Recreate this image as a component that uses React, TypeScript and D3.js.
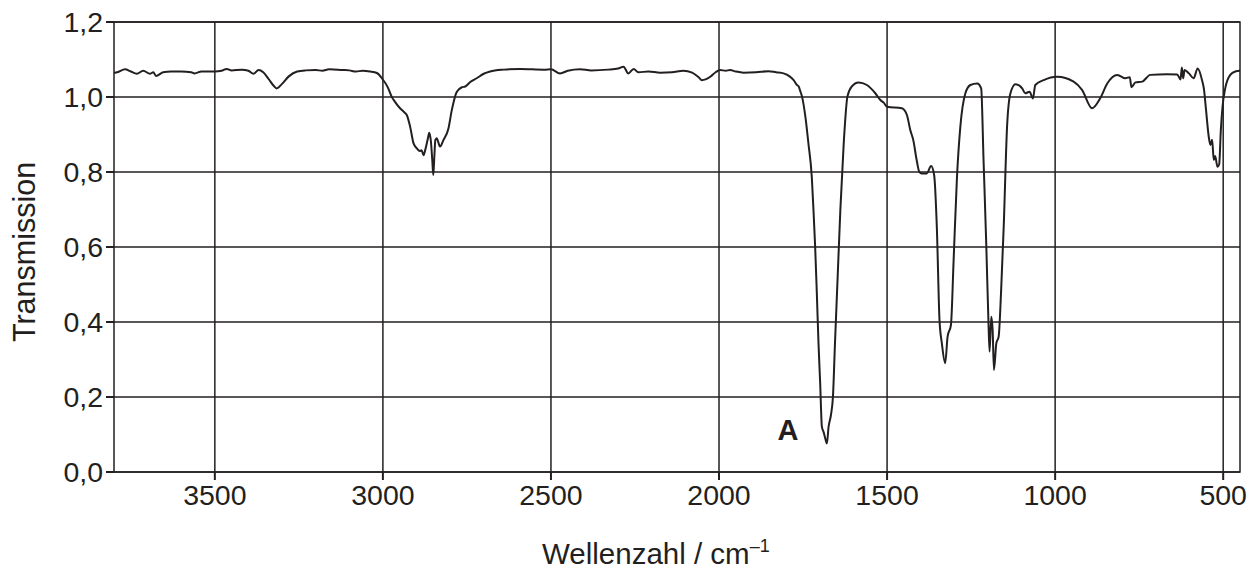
import React from "react";
import * as d3 from "d3";

// Wavenumbers (cm^-1), descending
const waveNumbers: number[] = [
  3800, 3790, 3767, 3750, 3732, 3713, 3693, 3683, 3675, 3654, 3630, 3600, 3570, 3560, 3540, 3500,
  3480, 3465, 3450, 3420, 3400, 3385, 3370, 3356, 3340, 3325, 3316, 3300, 3280, 3255, 3230, 3200,
  3180, 3160, 3120, 3100, 3080, 3060, 3038, 3018, 3003, 2985, 2974, 2964, 2949, 2935, 2929, 2919,
  2909, 2899, 2890, 2885, 2879, 2874, 2866, 2862, 2857, 2853, 2850, 2847, 2844, 2840, 2830, 2820,
  2805, 2795, 2780, 2765, 2755, 2740, 2721, 2700, 2681, 2640, 2592, 2520, 2500, 2473, 2450, 2413,
  2380, 2330, 2300, 2284, 2270, 2254, 2240, 2210, 2175, 2140, 2106, 2080, 2060, 2051, 2040, 2026,
  2010, 1997, 1980, 1967, 1950, 1927, 1890, 1853, 1830, 1808, 1790, 1778, 1768, 1763, 1758, 1753,
  1743, 1734, 1724, 1719, 1714, 1709, 1704, 1699, 1694, 1689, 1684, 1679, 1674, 1667, 1661, 1655,
  1647, 1639, 1629, 1618, 1605, 1585, 1560, 1535, 1520, 1510, 1500, 1456, 1441, 1431, 1422, 1412,
  1404, 1397, 1382, 1369, 1360, 1352, 1344, 1337, 1327, 1320, 1310, 1302, 1292, 1282, 1267, 1252,
  1232, 1220, 1213, 1205, 1198, 1195, 1190, 1186, 1182, 1175, 1168, 1161, 1153, 1143, 1133, 1118,
  1098, 1089, 1076, 1066, 1059, 1034, 994, 945, 920, 890, 865, 845, 815, 791, 778, 773,
  761, 741, 717, 667, 637, 627, 623, 619, 615, 602, 588, 576, 563, 557, 551, 543,
  538, 533, 528, 524, 517, 512, 507, 502, 494, 479, 464, 450,
];

// Transmission values
const transmission: number[] = [
  1.064, 1.066, 1.074, 1.068, 1.062, 1.07, 1.062, 1.066, 1.056, 1.066, 1.068, 1.068, 1.066, 1.063, 1.068, 1.068,
  1.07, 1.075, 1.071, 1.073, 1.07, 1.062, 1.072, 1.066, 1.048, 1.03, 1.023, 1.035, 1.055, 1.068, 1.071, 1.072,
  1.07, 1.074, 1.072, 1.071, 1.068, 1.07, 1.068, 1.064, 1.05, 1.025, 1.001, 0.987, 0.97, 0.958, 0.952, 0.921,
  0.877, 0.863, 0.856, 0.858, 0.845, 0.859, 0.89, 0.905, 0.88, 0.83, 0.792, 0.84, 0.885, 0.89, 0.868, 0.885,
  0.916, 0.965, 1.014, 1.026, 1.028, 1.04, 1.05, 1.062, 1.068, 1.073, 1.075, 1.073, 1.074, 1.063, 1.07, 1.074,
  1.071, 1.073, 1.076, 1.081, 1.063, 1.075, 1.066, 1.068, 1.065, 1.066, 1.07, 1.065, 1.052, 1.045, 1.047, 1.054,
  1.066, 1.072, 1.07, 1.072, 1.068, 1.065, 1.066, 1.069, 1.066, 1.063, 1.055, 1.045, 1.032, 1.028, 1.015, 1.001,
  0.947, 0.876, 0.787, 0.699, 0.601, 0.477, 0.343, 0.236, 0.121, 0.107, 0.09, 0.076, 0.121, 0.152, 0.201, 0.343,
  0.521, 0.699, 0.876, 1.001, 1.028, 1.039, 1.032, 1.01, 0.992, 0.985, 0.974, 0.97, 0.952, 0.912, 0.885, 0.832,
  0.8, 0.796, 0.796, 0.816, 0.792, 0.654, 0.405, 0.343, 0.29, 0.361, 0.392, 0.565, 0.787, 0.921, 1.01, 1.032,
  1.036, 1.023, 0.832, 0.61, 0.388, 0.321, 0.414, 0.38, 0.272, 0.343, 0.361, 0.477, 0.654, 0.921, 1.01, 1.034,
  1.023, 1.01, 1.014, 0.996, 1.032, 1.045, 1.054, 1.041, 1.019, 0.97, 0.998, 1.036, 1.059, 1.05, 1.053, 1.026,
  1.039, 1.041, 1.059, 1.061, 1.06, 1.047, 1.079, 1.05, 1.072, 1.063, 1.05, 1.076, 1.045, 1.019, 0.965, 0.894,
  0.872, 0.886, 0.832, 0.843, 0.814, 0.82, 0.912, 0.974, 1.023, 1.059, 1.068, 1.07,
];

const xTicks: number[] = [3500, 3000, 2500, 2000, 1500, 1000, 500];
const yTicks: number[] = [0, 0.2, 0.4, 0.6, 0.8, 1.0, 1.2];
const peakLabel = { text: "A", wn: 1795, t: 0.107 };

const INK = "#231f20";
const FONT = "'Liberation Sans', Arial, Helvetica, sans-serif";

export default function App() {
  const W = 1258;
  const H = 571;
  const left = 114, right = 1240, top = 22, bottom = 472;
  const x = d3.scaleLinear().domain([3800, 450]).range([left, right]);
  const y = d3.scaleLinear().domain([0, 1.2]).range([bottom, top]);

  const data = waveNumbers.map((w, i) => [w, transmission[i]] as [number, number]);
  const line = d3
    .line<[number, number]>()
    .x((d) => x(d[0]))
    .y((d) => y(d[1]))
    .curve(d3.curveMonotoneX);

  const fmt = (v: number) => v.toFixed(1).replace(".", ",");

  return (
    <svg
      width={W}
      height={H}
      style={{ position: "absolute", left: 0, top: 0, background: "#fff" }}
      fontFamily={FONT}
    >
      {/* grid */}
      {yTicks.map((t) => (
        <line key={"gy" + t} x1={left} x2={right} y1={y(t)} y2={y(t)} stroke={INK} strokeWidth={1.5} />
      ))}
      {xTicks.map((t) => (
        <line key={"gx" + t} x1={x(t)} x2={x(t)} y1={top} y2={bottom} stroke={INK} strokeWidth={1.5} />
      ))}
      {/* frame */}
      <rect x={left} y={top} width={right - left} height={bottom - top} fill="none" stroke={INK} strokeWidth={1.5} />
      {/* ticks */}
      {yTicks.map((t) => (
        <line key={"ty" + t} x1={left - 8} x2={left} y1={y(t)} y2={y(t)} stroke={INK} strokeWidth={2} />
      ))}
      {xTicks.map((t) => (
        <line key={"tx" + t} x1={x(t)} x2={x(t)} y1={bottom} y2={bottom + 8} stroke={INK} strokeWidth={2} />
      ))}
      {/* tick labels */}
      {yTicks.map((t) => (
        <text key={"ly" + t} x={left - 11} y={y(t)} dy="0.36em" textAnchor="end" fontSize={28.5} fill={INK}>
          {fmt(t)}
        </text>
      ))}
      {xTicks.map((t) => (
        <text key={"lx" + t} x={x(t)} y={505} textAnchor="middle" fontSize={28.5} fill={INK}>
          {t}
        </text>
      ))}
      {/* spectrum */}
      <path d={line(data) || ""} fill="none" stroke={INK} strokeWidth={2} strokeLinejoin="round" />
      {/* peak label */}
      <text x={x(peakLabel.wn)} y={y(peakLabel.t) + 8} textAnchor="middle" fontSize={29} fontWeight="bold" fill={INK}>
        {peakLabel.text}
      </text>
      {/* axis titles */}
      <text x={542} y={564} fontSize={29.5} fill={INK}>
        Wellenzahl / cm
        <tspan fontSize={18} dy={-12}>–1</tspan>
      </text>
      <text transform="translate(35,252) rotate(-90)" textAnchor="middle" fontSize={30.5} fill={INK}>
        Transmission
      </text>
    </svg>
  );
}
